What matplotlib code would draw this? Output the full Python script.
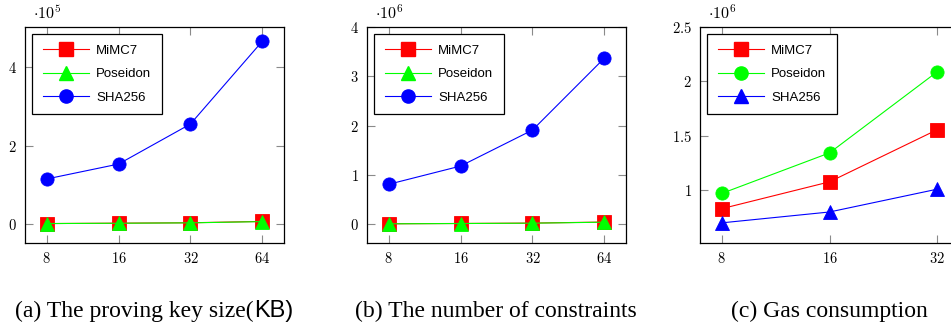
"""
Three-panel comparison of MiMC7, Poseidon and SHA256:
proving key size, number of constraints, gas consumption.
"""

import matplotlib
matplotlib.use("Agg")
import matplotlib.pyplot as plt
from matplotlib.lines import Line2D
from matplotlib.offsetbox import TextArea, HPacker, AnchoredOffsetbox

plt.rcParams["mathtext.fontset"] = "cm"

# ── Data ────────────────────────────────────────────────────────────────────
sizes = [8, 16, 32, 64]
gas_sizes = [8, 16, 32]

# (a) proving key size (KB)
pk_mimc = [1500, 2500, 3500, 7000]
pk_poseidon = [1500, 2300, 3300, 6500]
pk_sha = [115000, 153000, 255000, 466000]

# (b) number of constraints
cons_mimc = [10000, 16000, 24000, 45000]
cons_poseidon = [9000, 15000, 22000, 42000]
cons_sha = [810000, 1180000, 1910000, 3370000]

# (c) gas consumption
gas_mimc = [830000, 1077000, 1557000]
gas_poseidon = [970000, 1343000, 2090000]
gas_sha = [700000, 800000, 1010000]

RED, GREEN, BLUE = "#ff0000", "#00ff00", "#0000ff"

W, H = 951, 327
fig = plt.figure(figsize=(W / 100, H / 100), dpi=100)


def make_axes(left_px, right_px, top_px=27, bottom_px=243):
    return fig.add_axes([left_px / W, (H - bottom_px) / H,
                         (right_px - left_px) / W, (bottom_px - top_px) / H])


def style_axes(ax, xs, yticks, ylabels, ylim, exponent):
    ax.set_xscale("log", base=2)
    lo, hi = 3, 3 + len(xs) - 1
    pad = 0.1 * (hi - lo)
    ax.set_xlim(2 ** (lo - pad), 2 ** (hi + pad))
    ax.set_xticks(xs)
    ax.set_xticklabels([f"${x}$" for x in xs])
    ax.xaxis.set_minor_locator(plt.NullLocator())
    ax.set_ylim(*ylim)
    ax.set_yticks(yticks)
    ax.set_yticklabels(ylabels)
    ax.tick_params(axis="both", which="major", direction="in", length=6,
                   width=0.8, color="#8a8a8a", top=True, right=True,
                   labelsize=10.5, pad=6)
    for sp in ax.spines.values():
        sp.set_linewidth(0.9)
    ax.text(0.03, 1.025, rf"$\cdot 10^{{{exponent}}}$", transform=ax.transAxes,
            fontsize=11.5, ha="left", va="bottom")


def add_legend(ax, handles):
    leg = ax.legend(handles=handles, loc="upper left",
                    bbox_to_anchor=(0.027, 0.968),
                    prop={"family": "Liberation Sans", "size": 9.5},
                    handlelength=3.5, handletextpad=0.55, labelspacing=0.85,
                    borderpad=0.8, borderaxespad=0, fancybox=False,
                    framealpha=1, edgecolor="black")
    leg.get_frame().set_linewidth(0.9)


def series(ax, xs, ys, color, marker):
    ax.plot(xs, ys, color=color, marker=marker, markersize=9.5, linewidth=0.8,
            markeredgewidth=0.6)


def handle(color, marker, label):
    return Line2D([], [], color=color, marker=marker, markersize=9.5,
                  linewidth=0.8, label=label)


# ── (a) ──────────────────────────────────────────────────────────────────────
ax = make_axes(25, 284)
series(ax, sizes, pk_mimc, RED, "s")
series(ax, sizes, pk_poseidon, GREEN, "^")
series(ax, sizes, pk_sha, BLUE, "o")
style_axes(ax, sizes, [0, 2e5, 4e5], ["$0$", "$2$", "$4$"], (-0.48e5, 5.02e5), 5)
add_legend(ax, [handle(RED, "s", "MiMC7"),
                handle(GREEN, "^", "Poseidon"),
                handle(BLUE, "o", "SHA256")])

# ── (b) ──────────────────────────────────────────────────────────────────────
ax = make_axes(367, 626)
series(ax, sizes, cons_mimc, RED, "s")
series(ax, sizes, cons_poseidon, GREEN, "^")
series(ax, sizes, cons_sha, BLUE, "o")
style_axes(ax, sizes, [0, 1e6, 2e6, 3e6, 4e6],
           ["$0$", "$1$", "$2$", "$3$", "$4$"], (-0.38e6, 4.0e6), 6)
add_legend(ax, [handle(RED, "s", "MiMC7"),
                handle(GREEN, "^", "Poseidon"),
                handle(BLUE, "o", "SHA256")])

# ── (c) ──────────────────────────────────────────────────────────────────────
ax = make_axes(700, 959)
series(ax, gas_sizes, gas_mimc, RED, "s")
series(ax, gas_sizes, gas_poseidon, GREEN, "o")
series(ax, gas_sizes, gas_sha, BLUE, "^")
style_axes(ax, gas_sizes, [1e6, 1.5e6, 2e6, 2.5e6],
           ["$1$", "$1.5$", "$2$", "$2.5$"], (0.515e6, 2.5e6), 6)
add_legend(ax, [handle(RED, "s", "MiMC7"),
                handle(GREEN, "o", "Poseidon"),
                handle(BLUE, "^", "SHA256")])

# ── Captions ─────────────────────────────────────────────────────────────────
serif = {"family": "Liberation Serif", "size": 17}
sans = {"family": "Liberation Sans", "size": 17}


def caption(x_px, parts):
    areas = [TextArea(t, textprops=dict(color="black", **props)) for t, props in parts]
    box = HPacker(children=areas, align="baseline", pad=0, sep=0)
    ab = AnchoredOffsetbox(loc="center", child=box, frameon=False, pad=0,
                           bbox_to_anchor=(x_px / W, (H - 311) / H),
                           bbox_transform=fig.transFigure, borderpad=0)
    fig.add_artist(ab)


caption(154, [("(a) The proving key size(", serif), ("KB)", sans)])
caption(496, [("(b) The number of constraints", serif)])
caption(829, [("(c) Gas consumption", serif)])

fig.savefig("out.png", dpi=100)
